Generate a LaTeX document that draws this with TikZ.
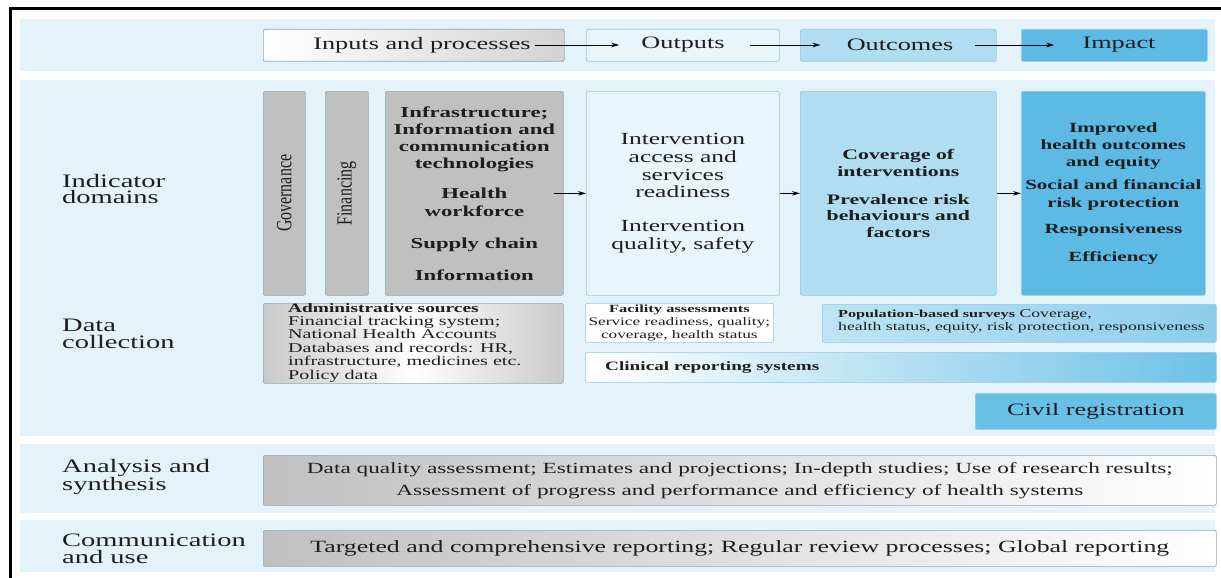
\documentclass[tikz,border=0pt]{standalone}
\usepackage{fontspec}
\setmainfont[FakeStretch=1.5]{Liberation Serif}
\newfontfamily\plainfont{Liberation Serif}
\usetikzlibrary{arrows.meta}
\definecolor{bandc}{RGB}{228,243,250}
\definecolor{edgec}{RGB}{140,170,185}
\definecolor{grayc}{RGB}{192,192,192}
\definecolor{outc}{RGB}{232,245,251}
\definecolor{outedge}{RGB}{150,200,225}
\definecolor{ocfill}{RGB}{176,221,242}
\definecolor{popl}{RGB}{190,228,245}
\definecolor{popr}{RGB}{140,205,235}
\definecolor{impfill}{RGB}{92,186,228}
\definecolor{civfill}{RGB}{104,192,230}
\definecolor{txt}{RGB}{30,30,30}
\newcommand{\fs}[2]{\fontsize{#1}{#2}\selectfont}
\newcommand{\vtext}[1]{\rotatebox{90}{\scalebox{1}[1.35]{\plainfont\fs{16}{16}#1}}}
\begin{document}
\begin{tikzpicture}[x=1pt,y=-1pt,
  bandbox/.style={fill=bandc, draw=none, inner sep=0pt, anchor=north west},
  box/.style={draw=edgec, line width=0.7pt, rounded corners=2pt, inner sep=0pt, anchor=north west, text=txt},
  lbl/.style={anchor=west, inner sep=0pt, align=left, text=txt, font=\fs{19}{17}},
  head/.style={text=txt, font=\fs{17.5}{17}, inner sep=1pt},
  arr/.style={-{Stealth[length=8pt,width=4.5pt]}, line width=0.9pt, black},
  ]
\useasboundingbox (0,0) rectangle (1221,578);
\fill[white] (0,0) rectangle (1221,578);
% bands
\node[bandbox, minimum width=1195pt, minimum height=52pt] (b1) at (20,19) {};
\node[bandbox, minimum width=1195pt, minimum height=356pt] (b2) at (20,80) {};
\node[bandbox, minimum width=1195pt, minimum height=69pt] (b3) at (20,444) {};
\node[bandbox, minimum width=1195pt, minimum height=52pt] (b4) at (20,520) {};
% frame
\draw[line width=3pt] (10,578) -- (10,9) -- (1221,9);
% top row
\node[box, left color=white, right color=grayc!70, minimum width=301pt, minimum height=32pt] (hIn) at (263,29) {};
\node[box, draw=outedge, fill=outc, minimum width=193pt, minimum height=32pt] (hOut) at (586,29) {};
\node[box, draw=outedge, fill=ocfill, minimum width=196pt, minimum height=32pt] (hOc) at (800,29) {};
\node[box, draw=outedge, fill=impfill, minimum width=186pt, minimum height=32pt] (hImp) at (1021,29) {};
\node[head] (tIn) at (422,45) {Inputs and processes};
\node[head] (tOut) at (683,45) {Outputs};
\node[head] (tOc) at (900,45) {Outcomes};
\node[head] (tImp) at (1119,45) {Impact};
\draw[arr, shorten <=3pt, shorten >=21pt] (tIn.east) -- (tOut.west);
\draw[arr, shorten <=24pt, shorten >=25pt] (tOut.east) -- (tOc.west);
\draw[arr, shorten <=21pt, shorten >=27pt] (tOc.east) -- (tImp.west);
% left labels
\node[lbl] (lInd) at (62,189) {Indicator\\domains};
\node[lbl] (lData) at (62,334) {Data\\collection};
\node[lbl] (lAna) at (62,477) {Analysis and\\synthesis};
\node[lbl] (lCom) at (62,549) {Communication\\and use};
% indicator domains
\node[box, fill=grayc, minimum width=42pt, minimum height=204pt] (gov) at (263,91) {};
\node[text=txt, inner sep=0pt] (tgov) at (gov.center) {\vtext{Governance}};
\node[box, fill=grayc, minimum width=43pt, minimum height=204pt] (fin) at (325,91) {};
\node[text=txt, inner sep=0pt] (tfin) at (fin.center) {\vtext{Financing}};
\node[box, fill=grayc, minimum width=178pt, minimum height=204pt, align=center, font=\fs{15.2}{17.3}\bfseries] (infra) at (385,91)
 {Infrastructure;\\Information and\\communication\\technologies\\[12.7pt]Health\\workforce\\[14.7pt]Supply chain\\[14.7pt]Information};
\node[box, draw=outedge, fill=outc, minimum width=193pt, minimum height=204pt, align=center, font=\fs{17}{17.6}] (outd) at (586,91)
 {Intervention\\access and\\services\\readiness\\[16.4pt]Intervention\\quality, safety};
\node[box, draw=outedge, fill=ocfill, minimum width=196pt, minimum height=204pt, align=center, font=\fs{14.5}{16.5}\bfseries] (ocd) at (800,91)
 {Coverage of\\interventions\\[11.5pt]Prevalence risk\\behaviours and\\factors};
\node[box, draw=outedge, fill=impfill, minimum width=184pt, minimum height=204pt, align=center, font=\fs{14}{17.3}\bfseries] (impd) at (1021,91)
 {Improved\\health outcomes\\and equity\\[5.7pt]Social and financial\\risk protection\\[8.7pt]Responsiveness\\[10.7pt]Efficiency};
\draw[arr] (infra.east) ++(-10,0) coordinate (a0) (a0) -- (outd.west);
\draw[arr] (outd.east) -- (ocd.west);
\draw[arr] (ocd.east) -- (impd.west);
% data collection
\node[box, left color=grayc!85, right color=grayc!85, middle color=white, minimum width=300pt, minimum height=80pt] (adm) at (263,303) {};
\node[anchor=north west, inner sep=0pt, align=left, text=txt, font=\fs{13.4}{13.4}] (tadm) at (288,303)
 {{\fs{12.9}{13.4}\bfseries Administrative sources}\\Financial tracking system;\\National Health Accounts\\Databases and records: HR,\\infrastructure, medicines etc.\\Policy data};
\node[box, draw=outedge, fill=white, minimum width=188pt, minimum height=39pt] (fac) at (585,303) {};
\node[align=center, text=txt, inner sep=0pt, font=\fs{11.5}{13}] (tfac) at (fac.center)
 {{\fs{11}{13}\bfseries Facility assessments}\\Service readiness, quality;\\coverage, health status};
\node[box, draw=outedge, left color=popl, right color=popr, minimum width=394pt, minimum height=38pt] (pop) at (822,304) {};
\node[anchor=north west, align=left, text=txt, inner sep=0pt, font=\fs{11.8}{13}] (tpop) at (838,309)
 {{\fs{10.8}{13}\bfseries Population-based surveys} Coverage,\\health status, equity, risk protection, responsiveness};
\node[box, draw=outedge, left color=white, right color=impfill!90, minimum width=631pt, minimum height=30pt] (cli) at (585,352) {};
\node[anchor=west, text=txt, inner sep=0pt, font=\fs{12.8}{13}\bfseries] (tcli) at (605,367) {Clinical reporting systems};
\node[box, draw=outedge, fill=civfill, minimum width=241pt, minimum height=36pt, font=\fs{17.4}{17}] (civ) at (975,393) {Civil registration};
% analysis
\node[box, left color=grayc, right color=white, minimum width=953pt, minimum height=50pt, align=center, font=\fs{15.5}{22}] (ana) at (263,455)
 {Data quality assessment; Estimates and projections; In-depth studies; Use of research results;\\Assessment of progress and performance and efficiency of health systems};
% communication
\node[box, left color=grayc, right color=white, minimum width=953pt, minimum height=36pt, font=\fs{17.2}{17}] (com) at (263,530)
 {Targeted and comprehensive reporting; Regular review processes; Global reporting};
\end{tikzpicture}
\end{document}
